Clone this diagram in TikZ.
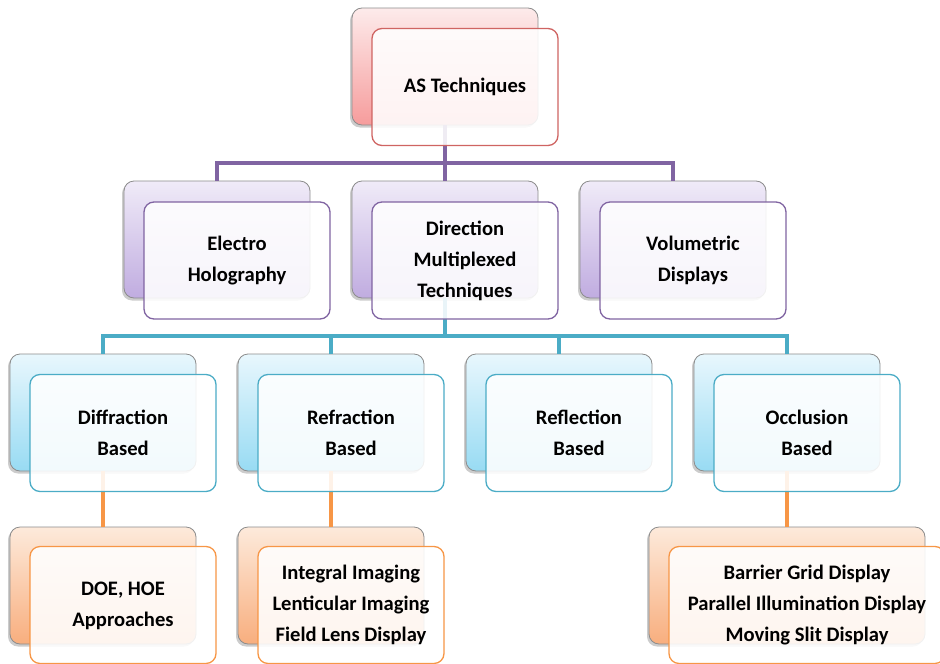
\documentclass[tikz,border=0pt]{standalone}
\usepackage{fontspec}
\setmainfont{Carlito}
\usetikzlibrary{shadows}
\definecolor{redT}{HTML}{FDEBEB}
\definecolor{redB}{HTML}{F69C9C}
\definecolor{redL}{HTML}{CF6462}
\definecolor{purT}{HTML}{F0EBF8}
\definecolor{purB}{HTML}{C0ACE0}
\definecolor{purL}{HTML}{8064A2}
\definecolor{tealT}{HTML}{E8F7FD}
\definecolor{tealB}{HTML}{98DBF3}
\definecolor{tealL}{HTML}{4BACC6}
\definecolor{oraT}{HTML}{FDEADB}
\definecolor{oraB}{HTML}{F8AE7E}
\definecolor{oraL}{HTML}{F79646}
\tikzset{
  backbox/.style={draw=black!45, line width=0.8pt, rounded corners=10pt,
    minimum width=186pt, minimum height=117pt, inner sep=0pt,
    drop shadow={shadow xshift=-2pt, shadow yshift=-2.5pt, opacity=0.4}},
  frontbox/.style={line width=1.3pt, rounded corners=10pt,
    minimum width=186pt, minimum height=117pt, inner sep=0pt,
    fill=white, fill opacity=0.88, text opacity=1, align=center,
    font=\fontsize{20.6}{31}\selectfont\bfseries},
  rback/.style={backbox, top color=redT, bottom color=redB},
  rfront/.style={frontbox, draw=redL},
  pback/.style={backbox, top color=purT, bottom color=purB},
  pfront/.style={frontbox, draw=purL},
  tback/.style={backbox, top color=tealT, bottom color=tealB},
  tfront/.style={frontbox, draw=tealL},
  oback/.style={backbox, top color=oraT, bottom color=oraB},
  ofront/.style={frontbox, draw=oraL},
  pline/.style={draw=purL, line width=3.5pt},
  tline/.style={draw=tealL, line width=3.5pt},
  oline/.style={draw=oraL, line width=3.5pt}
}
\begin{document}
\begin{tikzpicture}[x=1pt,y=-1pt]
\useasboundingbox (0,0) rectangle (940,664);
% back boxes
\node[rback] (asb) at (445,66.5) {};
\node[pback] (ehb) at (217,239.5) {};
\node[pback] (dmb) at (445,239.5) {};
\node[pback] (vdb) at (673,239.5) {};
\node[tback] (dfb) at (103,412.5) {};
\node[tback] (rfb) at (331,412.5) {};
\node[tback] (rlb) at (559,412.5) {};
\node[tback] (ocb) at (787,412.5) {};
\node[oback] (doeb) at (103,585.5) {};
\node[oback] (iib) at (331,585.5) {};
\node[oback, minimum width=276pt] (bgb) at (787,585.5) {};
% connectors
\coordinate (pj) at (445,163);
\coordinate (tj) at (445,336);
\draw[pline] (asb.south) -- (dmb.north);
\draw[pline] (ehb.north) |- (pj) -| (vdb.north);
\draw[tline] (dmb.south) -- (tj);
\draw[tline] (dfb.north) |- (tj) -| (ocb.north);
\draw[tline] (rfb.north) |- (tj);
\draw[tline] (rlb.north) |- (tj);
\draw[oline] (dfb.south) -- (doeb.north);
\draw[oline] (rfb.south) -- (iib.north);
\draw[oline] (ocb.south) -- (bgb.north);
% front boxes
\node[rfront] (asf) at (465,87) {\raisebox{-1.5pt}{AS Techniques}};
\node[pfront] (ehf) at (237,260.5) {Electro\\Holography};
\node[pfront] (dmf) at (465,260.5) {Direction\\Multiplexed\\Techniques};
\node[pfront] (vdf) at (693,260.5) {Volumetric\\Displays};
\node[tfront] (dff) at (123,433) {Diffraction\\Based};
\node[tfront] (rff) at (351,433) {Refraction\\Based};
\node[tfront] (rlf) at (579,433) {Reflection\\Based};
\node[tfront] (ocf) at (807,433) {Occlusion\\Based};
\node[ofront] (doef) at (123,605) {\raisebox{-1.5pt}{\begin{tabular}{@{}c@{}}DOE, HOE\\Approaches\end{tabular}}};
\node[ofront] (iif) at (351,605) {Integral Imaging\\Lenticular Imaging\\Field Lens Display};
\node[ofront, minimum width=276pt] (bgf) at (807,605) {Barrier Grid Display\\Parallel Illumination Display\\Moving Slit Display};
\end{tikzpicture}
\end{document}
